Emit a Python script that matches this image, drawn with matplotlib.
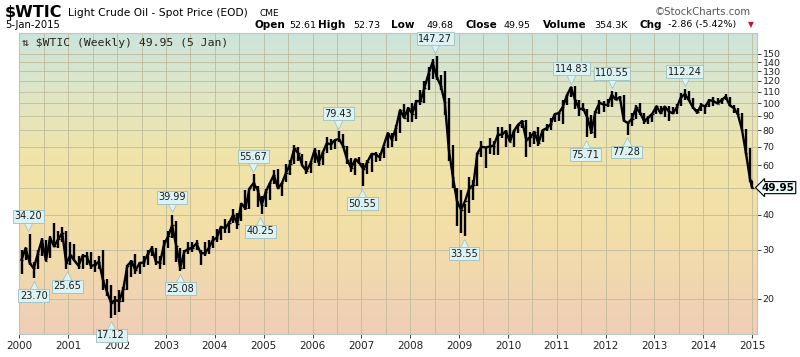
import numpy as np
import matplotlib
matplotlib.use("Agg")
from matplotlib import pyplot as plt
from matplotlib.colors import LinearSegmentedColormap
from matplotlib.transforms import offset_copy

# Monthly ranges of $WTIC (Jan 2000 .. Dec 2014, then first week of 2015)
lows = [
    24.5, 27.5, 26.5, 23.7, 25.5, 28.5, 27.5, 28.0, 31.5, 30.5, 32.0, 25.65,
    26.5, 27.5, 25.5, 25.5, 26.5, 25.5, 25.0, 25.5, 21.5, 20.5, 17.12, 17.5,
    17.9, 19.5, 21.5, 24.0, 24.5, 24.5, 26.0, 26.5, 28.5, 26.5, 25.5, 26.5,
    30.5, 33.0, 27.0, 25.08, 25.5, 29.0, 29.5, 30.0, 26.5, 28.5, 29.0, 30.5,
    32.0, 32.5, 34.5, 34.5, 37.5, 35.5, 38.0, 41.5, 42.0, 48.5, 42.5, 40.25,
    42.5, 45.0, 51.5, 49.5, 46.5, 52.5, 55.5, 60.5, 62.0, 59.5, 56.0, 56.5,
    61.0, 59.5, 60.0, 66.5, 68.0, 68.5, 72.5, 69.0, 60.5, 57.0, 55.5, 60.5,
    50.55, 56.0, 57.0, 61.5, 62.0, 63.5, 69.0, 69.5, 73.5, 78.0, 88.5, 86.0,
    86.0, 87.5, 98.5, 100.0, 111.0, 122.0, 121.0, 111.0, 90.5, 62.0, 50.0, 36.5,
    34.5, 33.55, 40.5, 45.0, 50.5, 64.0, 58.5, 66.0, 65.5, 65.5, 75.0, 69.5,
    72.5, 69.5, 78.5, 81.5, 64.5, 70.0, 71.5, 70.5, 72.5, 79.5, 80.5, 86.0,
    86.5, 84.5, 98.5, 105.0, 95.0, 90.0, 94.0, 75.71, 77.5, 75.0, 91.5, 93.0,
    97.0, 96.5, 102.5, 101.5, 86.5, 77.28, 83.0, 87.5, 90.5, 84.5, 84.0, 85.5,
    91.5, 91.5, 89.5, 86.5, 91.5, 91.5, 97.5, 102.5, 101.5, 95.5, 91.5, 93.5,
    91.5, 97.0, 97.5, 99.5, 99.0, 102.5, 97.5, 92.5, 90.5, 80.0, 65.5, 52.5,
    49.68,
]
highs = [
    30.0, 30.5, 34.2, 27.0, 30.0, 33.0, 32.5, 33.5, 37.2, 35.0, 36.0, 35.0,
    32.0, 31.5, 28.5, 29.0, 29.5, 29.5, 27.5, 28.5, 30.0, 23.5, 22.5, 20.5,
    21.5, 22.0, 26.5, 27.5, 29.0, 27.0, 28.5, 30.0, 31.0, 30.5, 28.5, 32.5,
    35.0, 39.99, 38.0, 30.5, 30.0, 32.0, 32.0, 32.5, 30.0, 32.0, 32.5, 33.5,
    35.5, 36.5, 38.5, 38.0, 42.0, 40.5, 44.0, 49.0, 50.0, 55.67, 50.5, 46.5,
    49.5, 52.0, 57.5, 58.0, 52.0, 60.5, 62.5, 70.8, 70.0, 66.0, 62.0, 62.0,
    69.0, 68.0, 67.0, 75.5, 74.5, 74.0, 79.43, 77.5, 70.5, 63.5, 62.0, 64.0,
    61.0, 62.5, 66.0, 67.0, 66.5, 70.0, 78.5, 78.0, 83.9, 94.5, 99.0, 97.0,
    100.0, 103.0, 111.8, 119.9, 135.1, 143.7, 147.27, 126.0, 130.0, 104.0, 71.0, 50.0,
    49.0, 43.5, 54.5, 53.0, 66.5, 73.2, 70.0, 75.0, 73.0, 82.0, 82.0, 80.0,
    84.0, 80.5, 83.5, 87.2, 87.0, 79.0, 79.5, 82.5, 80.5, 84.5, 88.5, 91.5,
    92.0, 103.0, 106.5, 113.9, 114.83, 102.5, 100.0, 95.5, 90.5, 94.0, 102.5, 101.5,
    103.5, 110.55, 110.0, 106.0, 106.5, 85.5, 92.5, 98.3, 100.0, 92.5, 90.0, 91.5,
    98.0, 97.5, 97.5, 97.5, 97.0, 99.0, 109.0, 112.24, 110.5, 104.5, 95.5, 100.0,
    98.5, 103.5, 105.0, 104.5, 104.5, 107.7, 105.0, 98.5, 96.0, 92.0, 81.0, 69.0,
    52.73,
]
closes = [
    27.6, 30.4, 26.9, 25.7, 29.0, 32.5, 27.4, 33.1, 30.8, 32.7, 34.4, 26.8,
    28.7, 27.4, 26.3, 28.5, 28.4, 26.3, 26.4, 27.2, 23.4, 21.2, 19.4, 19.8,
    19.7, 21.7, 26.3, 27.3, 25.3, 26.9, 27.0, 28.9, 30.4, 27.2, 26.9, 31.2,
    33.5, 36.6, 31.0, 25.8, 29.6, 30.2, 30.5, 31.6, 29.2, 29.1, 30.4, 32.5,
    33.1, 36.2, 35.8, 37.4, 39.9, 37.1, 43.8, 42.1, 49.6, 51.8, 49.1, 43.4,
    48.2, 51.8, 55.4, 49.7, 51.9, 56.5, 60.6, 68.9, 66.2, 59.8, 57.3, 61.0,
    67.9, 61.4, 66.6, 71.9, 71.3, 73.9, 74.4, 70.3, 62.9, 58.7, 63.1, 61.1,
    58.1, 61.8, 65.9, 65.7, 64.0, 70.7, 78.2, 74.0, 81.7, 94.5, 88.7, 96.0,
    91.8, 101.8, 101.6, 113.5, 127.4, 140.0, 124.1, 115.5, 100.6, 67.8, 54.4, 44.6,
    41.7, 44.8, 49.7, 51.1, 66.3, 69.9, 69.5, 70.0, 70.6, 77.0, 77.3, 79.4,
    72.9, 79.7, 83.8, 86.2, 74.0, 75.6, 78.9, 71.9, 80.0, 81.4, 84.1, 91.4,
    92.2, 97.0, 106.7, 113.9, 102.7, 95.4, 95.7, 88.8, 79.2, 93.2, 100.4, 98.8,
    98.5, 107.1, 103.0, 104.9, 86.5, 85.0, 88.1, 96.5, 92.2, 86.2, 88.9, 91.8,
    97.5, 92.0, 97.2, 93.5, 92.0, 96.6, 105.0, 107.7, 102.3, 96.4, 92.7, 98.4,
    97.5, 102.6, 101.6, 99.7, 102.7, 105.4, 98.2, 96.0, 91.2, 80.5, 66.2, 53.3,
    49.95,
]

# peak / trough callouts: (decimal year, value, above?)
callouts = [
    (2000.18, 34.20, True), (2000.29, 23.70, False), (2000.98, 25.65, False),
    (2001.88, 17.12, False), (2003.12, 39.99, True), (2003.29, 25.08, False),
    (2004.79, 55.67, True), (2004.93, 40.25, False), (2006.53, 79.43, True),
    (2007.02, 50.55, False), (2008.51, 147.27, True), (2009.10, 33.55, False),
    (2011.30, 114.83, True), (2011.59, 75.71, False), (2012.13, 110.55, True),
    (2012.43, 77.28, False), (2013.62, 112.24, True),
]

years = list(range(2000, 2016))
price_ticks = [20, 30, 40, 50, 60, 70, 80, 90, 100, 110, 120, 130, 140, 150]

n = len(closes)
xs = 2000 + (np.arange(n) + 0.5) / 12.0
xs[-1] = 2015.0

fig = plt.figure(figsize=(8, 3.57), dpi=100)
fig.patch.set_facecolor("white")
ax = fig.add_axes([19 / 800, 1 - 334 / 357, 738 / 800, 301 / 357])

ylo, yhi = 15.0, 178.0
xlo, xhi = 1999.99, 2015.1
ax.set_yscale("log")
ax.set_xlim(xlo, xhi)
ax.set_ylim(ylo, yhi)

# gradient background in axes space: green-blue top, yellow middle, peach bottom
bg = LinearSegmentedColormap.from_list("bg", [(0.0, "#cde4dc"), (0.2, "#dfe6c6"), (0.4, "#f0e4aa"),
                                              (0.6, "#f3e1a6"), (0.8, "#f1d8ae"), (1.0, "#efceb8")])
grad = np.linspace(0, 1, 256).reshape(-1, 1)
ax.imshow(grad, cmap=bg, aspect="auto", extent=[0, 1, 0, 1], origin="upper",
          transform=ax.transAxes, zorder=0)

# grid
for yr in np.arange(2000, 2015.01, 0.5):
    ax.axvline(yr, color="#bdb898", lw=0.7, alpha=0.8, zorder=1)
for p in price_ticks:
    ax.axhline(p, color="#bdb898", lw=0.7, alpha=0.8, zorder=1)

# price bars
ax.vlines(xs, lows, highs, color="black", lw=1.7, zorder=3)
ax.plot(xs, closes, color="black", lw=1.7, zorder=3)
ax.hlines(closes, xs, xs + 0.03, color="black", lw=1.0, zorder=3)

up = offset_copy(ax.transData, fig=fig, y=5.5, units="points")
down = offset_copy(ax.transData, fig=fig, y=-5.5, units="points")
for x, v, above in callouts:
    ax.plot(x, v, marker="v" if above else "^", ms=7, mfc="#ddf2f2", mec="#9dbfbf", mew=0.5,
            transform=up if above else down, zorder=4, clip_on=False)
    ax.annotate(f"{v:.2f}", xy=(x, v), xytext=(0, 9 if above else -9), textcoords="offset points",
                ha="center", va="bottom" if above else "top", fontsize=7, color="#1a1a1a",
                bbox=dict(boxstyle="square,pad=0.15", fc="#ddf2f2", ec="#9dbfbf", lw=0.6),
                zorder=5, annotation_clip=False)

# last price tag
ax.annotate("49.95", xy=(2015.0, 49.95), xytext=(7, 0), textcoords="offset points",
            ha="left", va="center", fontsize=7.5, fontweight="bold", color="black",
            bbox=dict(boxstyle="larrow,pad=0.1", fc="#eef9f9", ec="black", lw=0.8),
            annotation_clip=False, zorder=6)

ax.set_yticks(price_ticks)
ax.set_yticklabels(["" if p == 50 else str(p) for p in price_ticks])
ax.yaxis.set_minor_locator(matplotlib.ticker.NullLocator())
ax.yaxis.tick_right()
ax.set_xticks(years)
ax.set_xticklabels([str(y) for y in years])
ax.tick_params(axis="both", labelsize=7.5, colors="#222222", length=3, width=0.6, pad=2)
ax.tick_params(axis="y", labelsize=6.8, pad=1)
for s in ax.spines.values():
    s.set_color("#b8c8c0")
    s.set_linewidth(0.8)

ax.text(0.004, 0.985, "\u21c5 $WTIC (Weekly) 49.95 (5 Jan)", transform=ax.transAxes,
        ha="left", va="top", fontsize=8.2, family="DejaVu Sans Mono", color="#222222", zorder=6)

# header lines
fig.text(5 / 800, 1 - 13 / 357, "$WTIC", fontsize=11.5, fontweight="bold", va="center", ha="left")
fig.text(68 / 800, 1 - 13 / 357, "Light Crude Oil - Spot Price (EOD)", fontsize=7.7, va="center", ha="left")
fig.text(259 / 800, 1 - 14 / 357, "CME", fontsize=6.5, va="center", ha="left")
fig.text(5 / 800, 1 - 25 / 357, "5-Jan-2015", fontsize=7.2, va="center", ha="left")
fig.text(655 / 800, 1 - 12 / 357, "\u00a9StockCharts.com", fontsize=7.3, color="#555555", va="center", ha="left")

row = [
    (255, "Open", True), (289, "52.61", False), (318, "High", True), (353, "52.73", False),
    (391, "Low", True), (427, "49.68", False), (465, "Close", True), (503, "49.95", False),
    (543, "Volume", True), (594, "354.3K", False), (640, "Chg", True), (668, "-2.86 (-5.42%)", False),
]
for px, s, bold in row:
    fig.text(px / 800, 1 - 25 / 357, s, fontsize=7.5 if bold else 6.8,
             fontweight="bold" if bold else "normal", va="center", ha="left")
fig.text(748 / 800, 1 - 25 / 357, "\u25bc", fontsize=5.5, color="#c0143c", va="center", ha="left")

fig.savefig("out.png", dpi=100)
